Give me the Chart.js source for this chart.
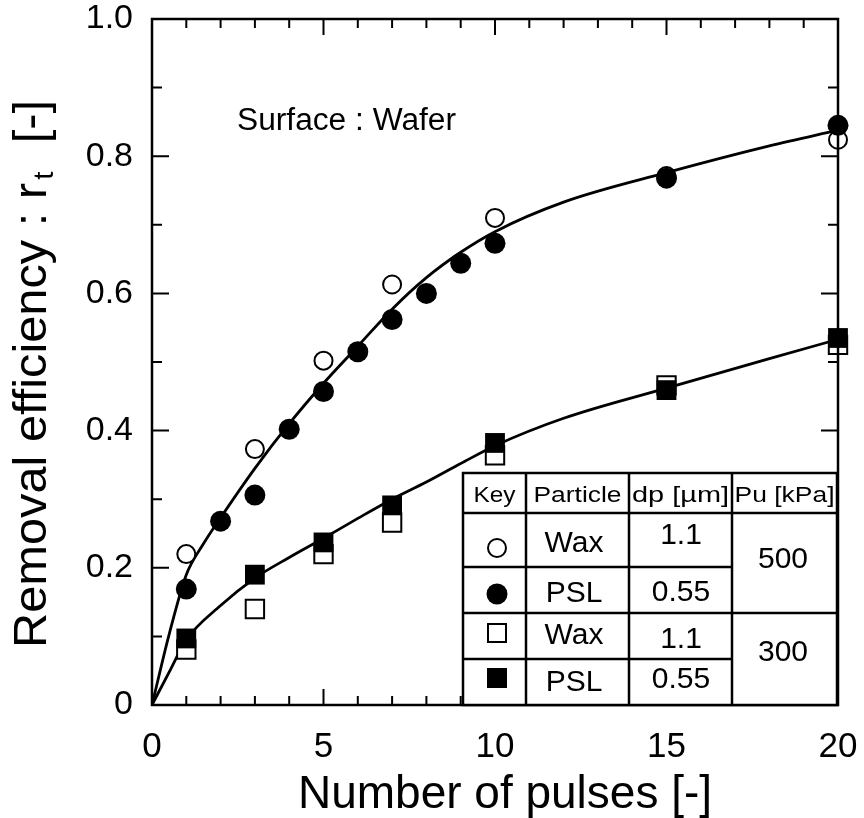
<!DOCTYPE html>
<html>
<head>
<meta charset="utf-8">
<script src="https://cdn.jsdelivr.net/npm/chart.js@4.4.0/dist/chart.umd.min.js"></script>
<style>
  html, body { margin: 0; padding: 0; background: #fff; }
</style>
</head>
<body>
<canvas id="chart" width="864" height="818"></canvas>
<script>
const pulsesWax500 = [1, 3, 5, 7, 10, 15, 20];
const waxCircle = [0.22, 0.373, 0.502, 0.613, 0.71, 0.771, 0.824];
const pulsesPsl500 = [1, 2, 3, 4, 5, 6, 7, 8, 9, 10, 15, 20];
const pslCircle = [0.169, 0.268, 0.306, 0.402, 0.457, 0.515, 0.562, 0.600, 0.644, 0.673, 0.768, 0.845];
const pulses300 = [1, 3, 5, 7, 10, 15, 20];
const waxSquare = [0.081, 0.14, 0.22, 0.266, 0.364, 0.466, 0.525];
const pslSquare = [0.097, 0.19, 0.237, 0.291, 0.382, 0.459, 0.535];

// fitted curves as drawn in the figure
const curveX500 = [0, 0.5, 1, 1.5, 2, 3, 4, 5, 6, 7, 8, 9, 10, 12, 15, 18, 20];
const curve500 = [0, 0.103, 0.19, 0.235, 0.273, 0.345, 0.41, 0.469, 0.523, 0.577, 0.623, 0.66, 0.69, 0.733, 0.776, 0.815, 0.838];
const curveX300 = [0, 0.5, 1, 2, 3, 4, 5, 6, 7, 8, 9, 10, 12, 15, 18, 20];
const curve300 = [0, 0.048, 0.095, 0.145, 0.185, 0.215, 0.243, 0.272, 0.3, 0.325, 0.352, 0.378, 0.418, 0.462, 0.505, 0.533];

// key table contents
const keyParticles = ['Wax', 'PSL', 'Wax', 'PSL'];
const keyDp = ['1.1', '0.55', '1.1', '0.55'];
const keyPu = ['500', '300'];
const keyHeaders = ['Key', 'Particle', 'dp [µm]', 'Pu [kPa]'];

const FONT = '"Liberation Sans", Arial, Helvetica, sans-serif';

function pts(xs, ys) {
    return xs.map((x, i) => ({ x: x, y: ys[i] }));
}

function text(ctx, str, x, y, size, align, width) {
    ctx.save();
    ctx.font = `${size}px ${FONT}`;
    ctx.fillStyle = '#000';
    ctx.textBaseline = 'alphabetic';
    ctx.textAlign = align || 'center';
    ctx.translate(x, y);
    if (width) {
        const w = ctx.measureText(str).width;
        ctx.scale(width / w, 1);
    }
    ctx.fillText(str, 0, 0);
    ctx.restore();
}

// keep the plot box where the figure has it
function noOverhang(s) {
    s.paddingLeft = 0; s.paddingRight = 0;
    s.paddingTop = 0; s.paddingBottom = 0;
}

// frame + inward ticks on all four sides
const frameTicks = {
    id: 'frameTicks',
    afterDatasetsDraw(chart) {
        const { ctx, chartArea: a, scales: { x, y } } = chart;
        ctx.save();
        ctx.strokeStyle = '#000';
        ctx.lineWidth = 2.5;
        ctx.strokeRect(a.left, a.top, a.right - a.left, a.bottom - a.top);
        ctx.lineWidth = 2;
        ctx.beginPath();
        for (let i = 0; i <= 20; i++) {
            const px = x.getPixelForValue(i);
            const len = i % 5 === 0 ? 16 : 9;
            ctx.moveTo(px, a.bottom); ctx.lineTo(px, a.bottom - len);
            ctx.moveTo(px, a.top); ctx.lineTo(px, a.top + len);
        }
        for (let i = 0; i <= 10; i++) {
            const py = y.getPixelForValue(i / 10);
            const len = i % 2 === 0 ? 17 : 10;
            ctx.moveTo(a.left, py); ctx.lineTo(a.left + len, py);
            ctx.moveTo(a.right, py); ctx.lineTo(a.right - len, py);
        }
        ctx.stroke();
        ctx.restore();
    }
};

// axis titles, annotation and the key table
const annotations = {
    id: 'annotations',
    afterDraw(chart) {
        const ctx = chart.ctx;

        // x title
        text(ctx, 'Number of pulses [-]', 505, 808, 46);

        // y title with subscript t
        ctx.save();
        ctx.translate(46, 374);
        ctx.rotate(-Math.PI / 2);
        ctx.fillStyle = '#000';
        ctx.textBaseline = 'alphabetic';
        ctx.textAlign = 'left';
        ctx.font = `46px ${FONT}`;
        const p1 = 'Removal efficiency : r', p3 = '  [-]';
        const w1 = ctx.measureText(p1).width, w3 = ctx.measureText(p3).width;
        ctx.font = `28px ${FONT}`;
        const w2 = ctx.measureText('t').width + 4;
        const total = w1 + w2 + w3;
        ctx.scale(548 / total, 1);
        const cx = -total / 2;
        ctx.font = `46px ${FONT}`;
        ctx.fillText(p1, cx, 0);
        ctx.font = `28px ${FONT}`;
        ctx.fillText('t', cx + w1 + 3, 7);
        ctx.font = `46px ${FONT}`;
        ctx.fillText(p3, cx + w1 + w2, 0);
        ctx.restore();

        text(ctx, 'Surface : Wafer', 237, 130, 31, 'left', 219);

        // key table
        const cols = [463, 526, 629, 732, 837];
        const rows = [473, 513, 567, 613, 659, 705];
        ctx.save();
        ctx.fillStyle = '#fff';
        ctx.fillRect(cols[0], rows[0], cols[4] - cols[0], rows[5] - rows[0]);
        ctx.strokeStyle = '#000';
        ctx.lineWidth = 2.5;
        ctx.strokeRect(cols[0], rows[0], cols[4] - cols[0], rows[5] - rows[0]);
        ctx.beginPath();
        for (let i = 1; i < 4; i++) {
            ctx.moveTo(cols[i], rows[0]); ctx.lineTo(cols[i], rows[5]);
        }
        ctx.moveTo(cols[0], rows[1]); ctx.lineTo(cols[4], rows[1]);
        ctx.moveTo(cols[0], rows[3]); ctx.lineTo(cols[4], rows[3]);
        ctx.moveTo(cols[0], rows[2]); ctx.lineTo(cols[3], rows[2]);
        ctx.moveTo(cols[0], rows[4]); ctx.lineTo(cols[3], rows[4]);
        ctx.stroke();

        // header
        const hw = [42, 88, 97, 100];
        keyHeaders.forEach((h, i) => {
            text(ctx, h, (cols[i] + cols[i + 1]) / 2, 502, 22, 'center', hw[i]);
        });

        // rows
        const partY = [552, 602, 644, 691];
        const dpY = [544, 601, 648, 688];
        keyParticles.forEach((p, i) => {
            text(ctx, p, 574, partY[i], 30);
            text(ctx, keyDp[i], 681, dpY[i], 30);
        });
        text(ctx, keyPu[0], 783, 568, 30);
        text(ctx, keyPu[1], 783, 661, 30);

        // key symbols
        const kx = 497;
        ctx.lineWidth = 2;
        ctx.fillStyle = '#fff';
        ctx.beginPath(); ctx.arc(kx, 548, 9, 0, Math.PI * 2); ctx.fill(); ctx.stroke();
        ctx.fillStyle = '#000';
        ctx.beginPath(); ctx.arc(kx, 594, 10.5, 0, Math.PI * 2); ctx.fill();
        ctx.fillStyle = '#fff';
        ctx.fillRect(kx - 9, 633 - 9, 18, 18); ctx.strokeRect(kx - 9, 633 - 9, 18, 18);
        ctx.fillStyle = '#000';
        ctx.fillRect(kx - 10, 678 - 10, 20, 20);
        ctx.restore();
    }
};

const ctx = document.getElementById('chart');
new Chart(ctx, {
    type: 'scatter',
    data: {
        datasets: [
            {
                label: 'PSL 0.55 um, 500 kPa',
                data: pts(pulsesPsl500, pslCircle),
                pointStyle: 'circle', pointRadius: 10.5, pointBorderWidth: 0,
                backgroundColor: '#000', borderColor: '#000', clip: false, order: 0
            },
            {
                label: 'PSL 0.55 um, 300 kPa',
                data: pts(pulses300, pslSquare),
                pointStyle: 'rect', pointRadius: 14, pointBorderWidth: 0,
                backgroundColor: '#000', borderColor: '#000', clip: false, order: 0
            },
            {
                label: 'Wax 1.1 um, 500 kPa',
                data: pts(pulsesWax500, waxCircle),
                pointStyle: 'circle', pointRadius: 9, pointBorderWidth: 2,
                backgroundColor: '#fff', borderColor: '#000', clip: false, order: 1
            },
            {
                label: 'Wax 1.1 um, 300 kPa',
                data: pts(pulses300, waxSquare),
                pointStyle: 'rect', pointRadius: 13, pointBorderWidth: 2,
                backgroundColor: '#fff', borderColor: '#000', clip: false, order: 1
            },
            {
                label: 'fit 500',
                data: pts(curveX500, curve500),
                showLine: true, pointRadius: 0, borderWidth: 2.8, borderColor: '#000',
                cubicInterpolationMode: 'monotone', order: 2
            },
            {
                label: 'fit 300',
                data: pts(curveX300, curve300),
                showLine: true, pointRadius: 0, borderWidth: 2.8, borderColor: '#000',
                cubicInterpolationMode: 'monotone', order: 2
            }
        ]
    },
    options: {
        responsive: false,
        devicePixelRatio: 1,
        animation: false,
        events: [],
        layout: { padding: { left: 0, top: 19, right: 26, bottom: 0 } },
        plugins: { legend: { display: false }, tooltip: { enabled: false } },
        scales: {
            x: {
                type: 'linear', min: 0, max: 20,
                grid: { display: false, drawTicks: false },
                border: { display: false },
                ticks: {
                    stepSize: 5, padding: 21, maxRotation: 0, color: '#000',
                    font: { size: 35, family: FONT },
                    callback: v => String(v)
                },
                afterFit(s) { s.height = 113; noOverhang(s); }
            },
            y: {
                min: 0, max: 1,
                grid: { display: false, drawTicks: false },
                border: { display: false },
                ticks: {
                    stepSize: 0.2, padding: 19, color: '#000',
                    font: { size: 34, family: FONT },
                    callback: v => v === 0 ? '0' : v.toFixed(1)
                },
                afterFit(s) { s.width = 152; noOverhang(s); }
            }
        }
    },
    plugins: [frameTicks, annotations]
});
</script>
</body>
</html>
